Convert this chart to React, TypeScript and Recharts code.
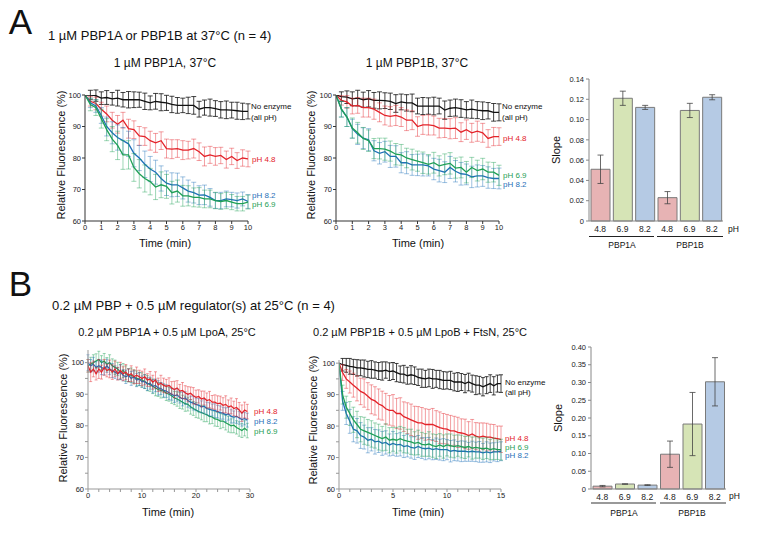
import React from 'react';
import { LineChart, Line, XAxis, YAxis, ErrorBar, BarChart, Bar, Cell } from 'recharts';

const FONT = '"Liberation Sans", Arial, Helvetica, sans-serif';
const RED = '#e3232a';
const BLUE = '#1f70b8';
const GREEN = '#1fa055';
const BLACK = '#111111';

// ---------- Panel A time axis (min) ----------
const tA = [0, 0.33, 0.67, 1, 1.33, 1.67, 2, 2.33, 2.67, 3, 3.33, 3.67, 4, 4.33, 4.67, 5, 5.33, 5.67, 6, 6.33, 6.67, 7, 7.33, 7.67, 8, 8.33, 8.67, 9, 9.33, 9.67, 10];

// A1: 1 µM PBP1A, 37°C
const a1NoEnz = [100, 100, 99.8, 99, 99.2, 98.8, 99, 98.5, 98.5, 98.5, 98.5, 98, 97.5, 98, 97.7, 97.5, 97, 96.7, 96.7, 96.7, 96.7, 95.5, 96, 96, 95.7, 95.3, 95.3, 95.2, 95, 94.8, 94.8];
const a1NoEnzErr = [0, 1.5, 1.8, 2, 2.2, 2, 2.5, 2.3, 2.6, 2.5, 2.4, 2.6, 2.2, 2.5, 2.7, 2.4, 2.6, 2.5, 2.3, 2.6, 2.8, 2.5, 2.4, 2.7, 2.5, 2.6, 2.8, 2.5, 2.7, 2.6, 2.4];
const a1pH48 = [100, 98, 97.3, 95.5, 94, 92, 90.7, 92, 89.3, 89, 87, 86.8, 85.5, 84.8, 85.5, 83, 82.8, 83, 82.5, 82.5, 83, 82, 80.5, 81, 80.5, 80.8, 79.5, 80.5, 79.2, 80, 79.7];
const a1pH48Err = [0, 1.5, 2, 2.2, 2.5, 2.5, 2.8, 2.5, 3, 2.8, 3, 2.8, 3, 3, 2.8, 3, 3, 2.8, 3, 2.8, 3, 2.8, 3, 2.7, 2.8, 2.6, 2.7, 2.6, 2.5, 2.6, 2.5];
const a1pH82 = [100, 97.5, 96.5, 93.5, 90, 88, 86.5, 85.5, 84.5, 81.5, 80, 78, 76.5, 75.5, 73.5, 72, 71.5, 71.5, 70.5, 69.5, 69, 68.2, 68.3, 67.5, 66.5, 66.5, 67, 66.8, 66.5, 67, 66.2];
const a1pH82Err = [0, 1.5, 2, 2.5, 3, 3.5, 4, 4.2, 4, 4.3, 4, 4.2, 4, 3.8, 4, 3.9, 3.8, 3.7, 3.5, 3.5, 3.3, 3, 3.1, 2.8, 2.5, 2.6, 2.5, 2.3, 2.4, 2.2, 2.2];
const a1pH69 = [100, 97, 96, 92.5, 89, 86, 84, 81, 81, 77, 75, 73.5, 72.5, 70.8, 71.5, 71, 69, 69.5, 68, 68, 67.5, 67.5, 67, 67, 66.5, 66.2, 66.5, 66, 65.5, 65.5, 66];
const a1pH69Err = [0, 2, 2.5, 3, 3.5, 4, 4.5, 4.6, 4.5, 4.4, 4.5, 4.3, 4.2, 4, 4.1, 3.8, 3.6, 3.5, 3.3, 3.2, 3, 3.1, 2.8, 2.8, 2.6, 2.5, 2.6, 2.4, 2.3, 2.3, 2.2];

// A2: 1 µM PBP1B, 37°C
const a2NoEnz = [100, 99.5, 99.3, 98.8, 99, 98.5, 98.8, 98.3, 98.3, 98.2, 98, 97.3, 97.8, 97.5, 97.5, 96.5, 96.5, 96.5, 96.5, 96.5, 95.2, 95.8, 96, 95.7, 95.3, 95.5, 95.2, 95, 95, 94.5, 94.5];
const a2NoEnzErr = [0, 1.5, 2, 2.2, 2.5, 2.4, 2.6, 2.5, 2.7, 2.5, 2.6, 2.8, 2.5, 2.6, 2.8, 2.5, 2.7, 2.6, 2.8, 2.5, 2.9, 2.6, 2.7, 2.8, 2.6, 2.9, 2.7, 2.8, 2.6, 2.8, 2.7];
const a2pH48 = [100, 98.3, 97.8, 96.5, 96.7, 96, 96, 95.5, 94.5, 93.5, 93.2, 93.5, 93, 92, 92, 90, 90.5, 90.5, 90.3, 89.5, 89.5, 89.3, 89.5, 88.2, 89, 88, 88.5, 88, 86.2, 86.8, 86.8];
const a2pH48Err = [0, 1.5, 2, 2.5, 2.5, 3, 3, 3.2, 3, 3, 3.1, 3.2, 3, 3.3, 3, 3.1, 3, 3.2, 3, 3.1, 3, 3.2, 3.3, 3, 3.1, 3, 3.2, 3, 2.8, 2.9, 2.8];
const a2pH69 = [100, 95.5, 93, 89.5, 88, 86.2, 85.5, 83, 83, 82.8, 82.2, 81.2, 81, 80, 79.5, 79, 78.5, 78, 78.5, 77.5, 78, 78.3, 76.8, 77, 75.5, 77, 76, 76.5, 75.5, 75.5, 74.5];
const a2pH69Err = [0, 2.5, 3, 3.2, 3.3, 3.5, 3.4, 3.2, 3.3, 3.5, 3.2, 3.4, 3.3, 3.1, 3.3, 3.2, 3.4, 3.1, 3.3, 3.2, 3.3, 3.4, 3.2, 3.3, 3.4, 3.2, 3.3, 3.4, 3.2, 3.1, 3.2];
const a2pH82 = [100, 95.5, 93, 89.3, 87.5, 86.3, 85.8, 82.3, 81.5, 82, 80.5, 80.5, 78.5, 78.5, 77.8, 77.8, 77.8, 77.5, 76.5, 76, 75.5, 77, 75.8, 75, 74.8, 74, 74.3, 74.3, 73.8, 73.5, 73.5];
const a2pH82Err = [0, 2.5, 3, 3, 3.2, 3.3, 3.5, 3.2, 3.4, 3.3, 3.5, 3.4, 3.2, 3.5, 3.3, 3.4, 3.5, 3.2, 3.4, 3.6, 3.3, 3.5, 3.4, 3.6, 3.3, 3.4, 3.5, 3.3, 3.4, 3.2, 3.3];

// A3: slopes
const phCats = ['4.8', '6.9', '8.2', '4.8', '6.9', '8.2'];
const aSlope = [0.051, 0.121, 0.112, 0.023, 0.109, 0.122];
const aSlopeErr = [0.014, 0.007, 0.002, 0.006, 0.007, 0.0025];

// ---------- Panel B ----------
const tB1 = [0, 0.5, 1, 1.5, 2, 2.5, 3, 3.5, 4, 4.5, 5, 5.5, 6, 6.5, 7, 7.5, 8, 8.5, 9, 9.5, 10, 10.5, 11, 11.5, 12, 12.5, 13, 13.5, 14, 14.5, 15, 15.5, 16, 16.5, 17, 17.5, 18, 18.5, 19, 19.5, 20, 20.5, 21, 21.5, 22, 22.5, 23, 23.5, 24, 24.5, 25, 25.5, 26, 26.5, 27, 27.5, 28, 28.5, 29, 29.5];
const b1pH48 = [99, 97, 98, 96.5, 98, 97, 98.5, 97.5, 98, 97, 98, 96.5, 97.5, 96.5, 97, 96, 96.5, 95.5, 96, 95.5, 95, 95.5, 94.5, 94.8, 93.8, 94.5, 93, 93.5, 92.8, 92.5, 92.8, 92, 91.5, 92, 91, 91.2, 90.5, 90, 90.3, 89.5, 89, 89.3, 88.5, 88.8, 88, 88.3, 87.5, 87.5, 87, 87.2, 86.5, 86.8, 86, 86.3, 85.5, 85.8, 85, 84, 85, 84.5];
const b1pH48Err = [2, 3, 2.5, 2, 3, 2.2, 2.5, 2, 2.8, 2.3, 2.5, 2, 2.6, 2.2, 2.4, 2, 2.5, 2.2, 2.6, 2.1, 2.3, 2.5, 2, 2.4, 2.2, 2.6, 2.1, 2.5, 2.3, 2.2, 2.4, 2, 2.6, 2.3, 2.1, 2.5, 2.2, 2.4, 2, 2.6, 2.3, 2.1, 2.5, 2.2, 2.4, 2.6, 2.1, 2.3, 2.5, 2.2, 2.4, 2.7, 2.2, 2.5, 2.3, 2.8, 2.4, 2.6, 2.5, 2.3];
const b1pH82 = [100, 99, 99.5, 98.5, 99, 98.5, 98, 99, 98, 97.5, 97, 96.5, 97, 96, 95.5, 96, 95, 95.5, 94.5, 94.8, 94, 94, 93.2, 93.5, 92.5, 92.8, 92, 91.8, 91.2, 91, 90.5, 90, 89.5, 89.8, 89, 88.5, 88.8, 88, 87.5, 87.2, 86.8, 86.5, 86, 86.2, 85.5, 85.2, 85, 84.8, 84.5, 84.2, 84, 83.5, 83.8, 83, 82.8, 83, 82.5, 82, 82.3, 81.8];
const b1pH82Err = [2.5, 2, 2.2, 1.8, 2, 2.3, 1.9, 2.1, 1.8, 2.2, 2, 1.9, 2.3, 1.8, 2.1, 2, 2.2, 1.9, 2.1, 2, 1.8, 2.2, 2, 1.9, 2.1, 2, 2.3, 1.9, 2.1, 2, 2.2, 1.9, 2.1, 2, 1.8, 2.2, 2, 2.1, 1.9, 2.2, 2, 2.1, 1.9, 2.2, 2, 2.1, 1.9, 2.2, 2, 2.1, 1.9, 2.2, 2, 2.1, 1.9, 2.2, 2, 2.1, 2, 2.2];
const b1pH69 = [99, 99.5, 100, 100.5, 101, 100, 100.5, 99.5, 100, 99, 98.5, 98, 97, 97.5, 96.5, 96, 96, 95.5, 95, 94.8, 94.5, 94, 93.5, 93, 92.5, 92, 91.5, 91.2, 91, 90.3, 90, 89.5, 88.8, 88.5, 88, 87.5, 87, 86.8, 86, 85.5, 85, 84.5, 84.2, 83.8, 83.5, 83, 82.8, 82.2, 82, 81.5, 81.5, 81, 80.5, 80, 80.2, 79.5, 79, 78.5, 79.2, 78.5];
const b1pH69Err = [2, 2.2, 2.5, 2.3, 2.6, 2.2, 2.4, 2.1, 2.5, 2.2, 2.3, 2.1, 2.4, 2.2, 2.5, 2.1, 2.3, 2.2, 2.4, 2.1, 2.3, 2.2, 2.4, 2.1, 2.3, 2.5, 2.2, 2.4, 2.1, 2.3, 2.2, 2.4, 2.1, 2.3, 2.5, 2.2, 2.4, 2.1, 2.3, 2.2, 2.4, 2.1, 2.3, 2.5, 2.2, 2.4, 2.1, 2.3, 2.2, 2.4, 2.1, 2.3, 2.5, 2.2, 2.4, 2.1, 2.3, 2.2, 2.4, 2.3];

const tB2 = [0, 0.33, 0.67, 1, 1.33, 1.67, 2, 2.33, 2.67, 3, 3.33, 3.67, 4, 4.33, 4.67, 5, 5.33, 5.67, 6, 6.33, 6.67, 7, 7.33, 7.67, 8, 8.33, 8.67, 9, 9.33, 9.67, 10, 10.33, 10.67, 11, 11.33, 11.67, 12, 12.33, 12.67, 13, 13.33, 13.67, 14, 14.33, 14.67, 15];
const b2NoEnz = [100, 99.5, 99.3, 99, 98.8, 98.5, 98.5, 98.3, 98, 98, 97.8, 97.5, 97.5, 97.8, 97.3, 97.5, 97, 96.5, 96.5, 96, 96.3, 96, 95.5, 95.2, 95, 95.3, 95, 95, 94.8, 94.5, 94.5, 94.5, 94, 94, 94, 93.5, 94, 93.5, 93, 93, 92.5, 93, 93.5, 92.8, 93.5, 93.5];
const b2NoEnzErr = [0, 2, 2.2, 2.5, 2.4, 2.6, 2.5, 2.7, 2.6, 2.8, 2.6, 2.7, 2.9, 2.6, 2.8, 2.7, 2.9, 2.6, 2.8, 2.7, 2.9, 2.8, 2.6, 2.9, 2.7, 2.8, 3, 2.7, 2.9, 2.8, 2.7, 2.9, 2.8, 3, 2.7, 2.9, 2.8, 2.7, 3, 2.8, 2.9, 2.7, 2.8, 2.9, 2.7, 2.8];
const b2pH48 = [100, 97, 95, 94, 93, 92, 91, 90.5, 89.5, 88.5, 88, 87, 86.5, 85.5, 85, 85, 84, 84, 83, 82.5, 82, 81.5, 81, 81, 80.5, 80.5, 80.5, 80, 79.5, 79.2, 79, 78.5, 78.5, 78, 77.8, 77.5, 77, 77.5, 76.8, 76.5, 76.8, 76.5, 76.5, 76.2, 76, 75.8];
const b2pH48Err = [0, 2.5, 3, 3.5, 3.8, 4, 4.2, 4.5, 4.3, 4.6, 4.5, 4.8, 4.6, 4.9, 4.7, 5, 4.8, 5, 4.7, 4.9, 5, 4.8, 5.2, 4.9, 5, 4.8, 5.1, 4.9, 5, 4.8, 4.7, 4.9, 4.6, 4.8, 4.5, 4.7, 4.4, 4.6, 4.3, 4.5, 4.2, 4.4, 4.1, 4.3, 4, 4.2];
const b2pH69 = [100, 90, 86, 84, 82, 80.5, 79, 78.5, 78, 77.5, 77, 76.5, 76, 76.5, 75.5, 75.8, 75.5, 76, 75.5, 75.2, 75, 74.5, 74.8, 74.2, 74, 74.3, 73.8, 73.5, 74, 73.5, 74, 73.8, 73.5, 73.8, 73.5, 73.2, 73.5, 73, 73.2, 73, 72.8, 73, 72.5, 72.8, 72.5, 72.5];
const b2pH69Err = [0, 3, 3.5, 3.8, 4, 4.2, 4, 4.3, 4.1, 4.2, 4, 4.1, 3.9, 4.2, 4, 3.8, 4.1, 3.9, 4, 3.8, 4, 3.7, 3.9, 3.8, 3.6, 3.9, 3.7, 3.8, 3.6, 3.7, 3.5, 3.7, 3.6, 3.4, 3.6, 3.5, 3.3, 3.5, 3.4, 3.2, 3.4, 3.3, 3.2, 3.4, 3.1, 3.3];
const b2pH82 = [100, 88, 84, 81.5, 79, 78.5, 77, 76.5, 75.5, 75.8, 75, 75.2, 74.5, 74.8, 74, 74.5, 74, 74.2, 73.5, 73.8, 73.2, 73, 73.5, 73, 72.8, 73, 72.5, 72.8, 72.5, 72.5, 72.5, 72, 72.3, 72, 72, 72, 71.8, 72, 71.8, 71.8, 71.5, 71.8, 71.5, 71.8, 71.8, 72];
const b2pH82Err = [0, 3, 3.5, 3.8, 4, 3.9, 4.1, 3.8, 4, 3.7, 3.9, 3.6, 3.8, 3.7, 3.5, 3.8, 3.6, 3.7, 3.5, 3.6, 3.4, 3.6, 3.5, 3.3, 3.5, 3.4, 3.2, 3.4, 3.3, 3.5, 3.2, 3.4, 3.3, 3.1, 3.3, 3.2, 3, 3.2, 3.1, 3.3, 3, 3.2, 3.1, 2.9, 3.1, 3];

const bSlope = [0.008, 0.014, 0.011, 0.098, 0.183, 0.302];
const bSlopeErr = [0.002, 0.0006, 0.001, 0.037, 0.089, 0.068];

const barFills = ['#e7b3b4', '#d6e4b6', '#b5cae4', '#e7b3b4', '#d6e4b6', '#b5cae4'];

// ---------- helpers ----------
type Series = { key: string; vals: number[]; errs: number[]; color: string; errOpacity: number };

function buildRows(t: number[], series: Series[]) {
  return t.map((x, i) => {
    const row: Record<string, number> = { t: x };
    series.forEach((s) => {
      row[s.key] = s.vals[i];
      row[s.key + 'E'] = s.errs[i];
    });
    return row;
  });
}

type LPProps = {
  left: number; top: number; plotW: number; plotH: number;
  xDomain: [number, number]; xTicks: number[]; xLabels: number[];
  yDomain: [number, number]; yTicks: number[]; yLabels: number[];
  axisColor: string; t: number[]; series: Series[]; lineW: number; capW: number;
};

function LinePanel(p: LPProps) {
  const yW = 45;
  const xH = 30;
  const mTop = 10;
  const mRight = 12;
  const data = buildRows(p.t, p.series);
  const tickStyle = { fontSize: 7.5, fill: '#222', fontFamily: FONT };
  return (
    <div style={{ position: 'absolute', left: p.left - yW, top: p.top - mTop }}>
      <LineChart width={yW + p.plotW + mRight} height={mTop + p.plotH + xH} data={data}
        margin={{ top: mTop, right: mRight, bottom: 0, left: 0 }}>
        <XAxis type="number" dataKey="t" domain={p.xDomain} ticks={p.xTicks} interval={0}
          allowDataOverflow height={xH} tickSize={3} tickMargin={1}
          stroke={p.axisColor} tick={tickStyle}
          tickFormatter={(v: number) => (p.xLabels.includes(v) ? String(v) : '')} />
        <YAxis type="number" domain={p.yDomain} ticks={p.yTicks} interval={0}
          allowDataOverflow width={yW} tickSize={3} tickMargin={1}
          stroke={p.axisColor} tick={tickStyle}
          tickFormatter={(v: number) => (p.yLabels.includes(v) ? String(v) : '')} />
        {p.series.map((s) => (
          <Line key={s.key} dataKey={s.key} stroke={s.color} strokeWidth={p.lineW} dot={false}
            isAnimationActive={false} type="linear">
            <ErrorBar dataKey={s.key + 'E'} direction="y" width={p.capW} stroke={s.color}
              strokeWidth={0.8} strokeOpacity={s.errOpacity} />
          </Line>
        ))}
      </LineChart>
    </div>
  );
}

type BPProps = {
  left: number; top: number; plotW: number; plotH: number;
  vals: number[]; errs: number[]; yMax: number; yTicks: number[]; dec: number;
};

function BarPanel(p: BPProps) {
  const yW = 40;
  const xH = 20;
  const mTop = 10;
  const data = phCats.map((c, i) => ({ ph: c, v: p.vals[i], e: p.errs[i] }));
  const tickStyle = { fontSize: 7.5, fill: '#222', fontFamily: FONT };
  return (
    <div style={{ position: 'absolute', left: p.left - yW, top: p.top - mTop }}>
      <BarChart width={yW + p.plotW} height={mTop + p.plotH + xH} data={data}
        margin={{ top: mTop, right: 0, bottom: 0, left: 0 }}>
        <XAxis dataKey="ph" height={xH} tickLine={false} tickSize={3} tickMargin={2}
          stroke="#888" tick={{ fontSize: 8.5, fill: '#222', fontFamily: FONT }} interval={0} />
        <YAxis type="number" domain={[0, p.yMax]} ticks={p.yTicks} interval={0} width={yW}
          tickSize={3} tickMargin={2} stroke="#888" tick={tickStyle}
          tickFormatter={(v: number) => (v === 0 ? '0' : v.toFixed(p.dec))} />
        <Bar dataKey="v" barSize={19} stroke="#7a7a7a" strokeWidth={1} isAnimationActive={false}>
          {data.map((d, i) => (
            <Cell key={i} fill={barFills[i]} />
          ))}
          <ErrorBar dataKey="e" direction="y" width={3} stroke="#444" strokeWidth={0.8} />
        </Bar>
      </BarChart>
    </div>
  );
}

type TProps = { x: number; y: number; size: number; children: React.ReactNode; color?: string; align?: 'left' | 'center'; rotate?: boolean };
function T({ x, y, size, children, color = '#111', align = 'center', rotate = false }: TProps) {
  const tx = align === 'center' ? '-50%' : '0';
  return (
    <div style={{
      position: 'absolute', left: x, top: y, fontSize: size, color, fontFamily: FONT,
      lineHeight: 1, whiteSpace: 'nowrap',
      transform: `translate(${tx}, -50%)${rotate ? ' rotate(-90deg)' : ''}`,
      transformOrigin: rotate ? '50% 50%' : undefined,
    }}>{children}</div>
  );
}

function HLine({ x1, x2, y, w, color }: { x1: number; x2: number; y: number; w: number; color: string }) {
  return <div style={{ position: 'absolute', left: x1, top: y - w / 2, width: x2 - x1, height: w, background: color }} />;
}

export default function App() {
  const EO = 0.55;
  const a1Series: Series[] = [
    { key: 'k', vals: a1NoEnz, errs: a1NoEnzErr, color: BLACK, errOpacity: 1 },
    { key: 'r', vals: a1pH48, errs: a1pH48Err, color: RED, errOpacity: EO },
    { key: 'b', vals: a1pH82, errs: a1pH82Err, color: BLUE, errOpacity: EO },
    { key: 'g', vals: a1pH69, errs: a1pH69Err, color: GREEN, errOpacity: EO },
  ];
  const a2Series: Series[] = [
    { key: 'k', vals: a2NoEnz, errs: a2NoEnzErr, color: BLACK, errOpacity: 1 },
    { key: 'r', vals: a2pH48, errs: a2pH48Err, color: RED, errOpacity: EO },
    { key: 'b', vals: a2pH82, errs: a2pH82Err, color: BLUE, errOpacity: EO },
    { key: 'g', vals: a2pH69, errs: a2pH69Err, color: GREEN, errOpacity: EO },
  ];
  const b1Series: Series[] = [
    { key: 'g', vals: b1pH69, errs: b1pH69Err, color: GREEN, errOpacity: EO },
    { key: 'b', vals: b1pH82, errs: b1pH82Err, color: BLUE, errOpacity: EO },
    { key: 'r', vals: b1pH48, errs: b1pH48Err, color: RED, errOpacity: EO },
  ];
  const b2Series: Series[] = [
    { key: 'k', vals: b2NoEnz, errs: b2NoEnzErr, color: BLACK, errOpacity: 1 },
    { key: 'r', vals: b2pH48, errs: b2pH48Err, color: RED, errOpacity: EO },
    { key: 'b', vals: b2pH82, errs: b2pH82Err, color: BLUE, errOpacity: EO },
    { key: 'g', vals: b2pH69, errs: b2pH69Err, color: GREEN, errOpacity: EO },
  ];
  const tenTicks = [0, 1, 2, 3, 4, 5, 6, 7, 8, 9, 10];
  const yTA = [60, 70, 80, 90, 100];
  const yTB = [60, 65, 70, 75, 80, 85, 90, 95, 100];
  const xTB1 = [0, 2, 4, 6, 8, 10, 12, 14, 16, 18, 20, 22, 24, 26, 28, 30];
  const xTB2 = [0, 1, 2, 3, 4, 5, 6, 7, 8, 9, 10, 11, 12, 13, 14, 15];

  return (
    <div style={{ position: 'absolute', left: 0, top: 0, width: 757, height: 537, background: '#fff', overflow: 'hidden', fontFamily: FONT }}>
      {/* Panel A */}
      <T x={20.5} y={21} size={35}>A</T>
      <T x={48} y={35} size={13} align="left">1 µM PBP1A or PBP1B at 37°C (n = 4)</T>
      <T x={165} y={63} size={12}>1 µM PBP1A, 37°C</T>
      <T x={417} y={63} size={12}>1 µM PBP1B, 37°C</T>

      <LinePanel left={85} top={95} plotW={163} plotH={126} xDomain={[0, 10]} xTicks={tenTicks} xLabels={tenTicks}
        yDomain={[60, 100]} yTicks={yTA} yLabels={yTA} axisColor="#333" t={tA} series={a1Series} lineW={1.3} capW={2.5} />
      <LinePanel left={336} top={95} plotW={163} plotH={126} xDomain={[0, 10]} xTicks={tenTicks} xLabels={tenTicks}
        yDomain={[60, 100]} yTicks={yTA} yLabels={yTA} axisColor="#333" t={tA} series={a2Series} lineW={1.3} capW={2.5} />

      <T x={61} y={155} size={11} rotate>Relative Fluorescence (%)</T>
      <T x={311} y={155} size={11} rotate>Relative Fluorescence (%)</T>
      <T x={165} y={243} size={11}>Time (min)</T>
      <T x={418} y={243} size={11}>Time (min)</T>

      <T x={251} y={107} size={8} align="left">No enzyme</T>
      <T x={251} y={118} size={8} align="left">(all pH)</T>
      <T x={252} y={160} size={8} align="left" color={RED}>pH 4.8</T>
      <T x={252} y={196} size={8} align="left" color={BLUE}>pH 8.2</T>
      <T x={252} y={205} size={8} align="left" color={GREEN}>pH 6.9</T>

      <T x={502} y={107} size={8} align="left">No enzyme</T>
      <T x={502} y={118} size={8} align="left">(all pH)</T>
      <T x={503} y={139} size={8} align="left" color={RED}>pH 4.8</T>
      <T x={503} y={176} size={8} align="left" color={GREEN}>pH 6.9</T>
      <T x={503} y={185} size={8} align="left" color={BLUE}>pH 8.2</T>

      <BarPanel left={589} top={79} plotW={134} plotH={142} vals={aSlope} errs={aSlopeErr} yMax={0.14}
        yTicks={[0, 0.02, 0.04, 0.06, 0.08, 0.1, 0.12, 0.14]} dec={2} />
      <T x={556} y={150} size={11} rotate>Slope</T>
      <T x={728} y={229} size={8.5} align="left">pH</T>
      <HLine x1={589} x2={654} y={236} w={1} color="#222" />
      <HLine x1={657} x2={723} y={236} w={1} color="#222" />
      <T x={622} y={245} size={8.5}>PBP1A</T>
      <T x={690} y={245} size={8.5}>PBP1B</T>

      {/* Panel B */}
      <T x={20.5} y={283} size={35}>B</T>
      <T x={52} y={305} size={13} align="left">0.2 µM PBP + 0.5 µM regulator(s) at 25°C (n = 4)</T>
      <T x={167} y={332} size={11}>0.2 µM PBP1A + 0.5 µM LpoA, 25°C</T>
      <T x={420} y={332} size={11}>0.2 µM PBP1B + 0.5 µM LpoB + FtsN, 25°C</T>

      <LinePanel left={88} top={350} plotW={162} plotH={139} xDomain={[0, 30]} xTicks={xTB1} xLabels={[0, 10, 20, 30]}
        yDomain={[60, 104]} yTicks={yTB} yLabels={yTA} axisColor="#999" t={tB1} series={b1Series} lineW={1.2} capW={1.5} />
      <LinePanel left={339} top={360} plotW={162} plotH={129} xDomain={[0, 15]} xTicks={xTB2} xLabels={[0, 5, 10, 15]}
        yDomain={[60, 101]} yTicks={yTB} yLabels={yTA} axisColor="#999" t={tB2} series={b2Series} lineW={1.3} capW={2} />

      <T x={63} y={418} size={11} rotate>Relative Fluorescence (%)</T>
      <T x={313} y={420} size={11} rotate>Relative Fluorescence (%)</T>
      <T x={168} y={512} size={11}>Time (min)</T>
      <T x={418} y={512} size={11}>Time (min)</T>

      <T x={254} y={412} size={8} align="left" color={RED}>pH 4.8</T>
      <T x={254} y={422} size={8} align="left" color={BLUE}>pH 8.2</T>
      <T x={254} y={432} size={8} align="left" color={GREEN}>pH 6.9</T>

      <T x={505} y={383} size={8} align="left">No enzyme</T>
      <T x={505} y={393} size={8} align="left">(all pH)</T>
      <T x={505} y={439} size={8} align="left" color={RED}>pH 4.8</T>
      <T x={505} y={447.5} size={8} align="left" color={GREEN}>pH 6.9</T>
      <T x={505} y={456} size={8} align="left" color={BLUE}>pH 8.2</T>

      <BarPanel left={591} top={347} plotW={135} plotH={142} vals={bSlope} errs={bSlopeErr} yMax={0.4}
        yTicks={[0, 0.05, 0.1, 0.15, 0.2, 0.25, 0.3, 0.35, 0.4]} dec={2} />
      <T x={558} y={418} size={11} rotate>Slope</T>
      <T x={729} y={496} size={8.5} align="left">pH</T>
      <HLine x1={591} x2={656} y={503} w={2} color="#999" />
      <HLine x1={660} x2={726} y={503} w={2} color="#999" />
      <T x={624} y={513} size={8.5}>PBP1A</T>
      <T x={692} y={513} size={8.5}>PBP1B</T>
    </div>
  );
}
